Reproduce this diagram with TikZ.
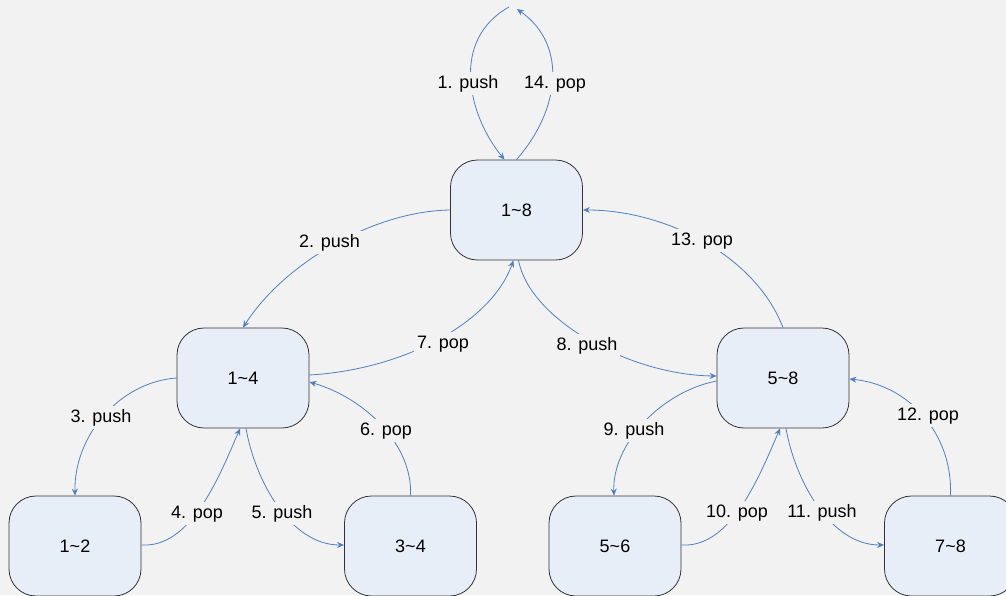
\documentclass[tikz,border=0pt]{standalone}
\usepackage{fontspec}
\setmainfont{Liberation Sans}
\usetikzlibrary{arrows.meta,calc}
\definecolor{bg}{HTML}{F2F2F2}
\definecolor{boxfill}{HTML}{E7EEF8}
\definecolor{edgecol}{HTML}{4D80C4}
\begin{document}
\begin{tikzpicture}[x=1pt,y=-1pt,
  box/.style={draw=black!80, line width=0.8pt, fill=boxfill, rounded corners=27pt,
    minimum width=132pt, minimum height=100pt, inner sep=0pt, font=\fontsize{18}{22}\selectfont},
  lbl/.style={fill=bg, inner sep=3pt, anchor=base, text height=13pt, text depth=4pt,
    font=\fontsize{18}{22}\selectfont},
  conn/.style={draw=edgecol, line width=0.8pt},
  arr/.style={conn, -{Stealth[length=7pt,width=6pt]}}]
\fill[bg] (0,0) rectangle (1006,595);
\useasboundingbox (0,0) rectangle (1006,595);

\node[box] (n18) at (516.5,210) {1\textasciitilde 8};
\node[box] (n14) at (243,378) {1\textasciitilde 4};
\node[box] (n58) at (783,378) {5\textasciitilde 8};
\node[box] (n12) at (75,546) {1\textasciitilde 2};
\node[box] (n34) at (410.5,546) {3\textasciitilde 4};
\node[box] (n56) at (615,546) {5\textasciitilde 6};
\node[box] (n78) at (950.5,546) {7\textasciitilde 8};
\coordinate (topa) at (509,7);
\coordinate (topb) at (517,9);

\draw[arr] (topa) .. controls (450,40) and (468,115) .. ($(n18.north)+(-12,0)$);
\draw[arr] (n18.north) .. controls (560,110) and (568,45) .. (topb);
\draw[arr] (n18.west) .. controls (375,211) and (285,262) .. (n14.north);
\draw[arr] ($(n14.east)+(0,-3)$) .. controls (400,370) and (490,325) .. ($(n18.south)+(-3,0)$);
\draw[arr] ($(n18.south)+(2,0)$) .. controls (530,320) and (630,375) .. ($(n58.west)+(0,-2)$);
\draw[arr] (n58.north) .. controls (755,255) and (665,210) .. (n18.east);
\draw[arr] (n14.west) .. controls (120,382) and (74,435) .. (n12.north);
\draw[arr] ($(n12.east)+(0,-1)$) .. controls (190,548) and (218,480) .. ($(n14.south)+(-3,0)$);
\draw[arr] ($(n14.south)+(3,0)$) .. controls (255,480) and (290,545) .. ($(n34.west)+(0,-1)$);
\draw[arr] (n34.north) .. controls (413,445) and (365,398) .. ($(n14.east)+(0,4)$);
\draw[arr] ($(n58.west)+(0,3)$) .. controls (660,392) and (612,445) .. ($(n56.north)+(-1,0)$);
\draw[arr] ($(n56.east)+(0,-1)$) .. controls (730,548) and (758,480) .. ($(n58.south)+(-3,0)$);
\draw[arr] ($(n58.south)+(3,0)$) .. controls (795,480) and (830,545) .. ($(n78.west)+(0,-1)$);
\draw[arr] (n78.north) .. controls (953,435) and (910,385) .. ($(n58.east)+(0,1)$);

\node[lbl] (l1) at (468,88) {1. push};
\node[lbl] (l14) at (555,88) {14. pop};
\node[lbl] (l2) at (329.5,247) {2. push};
\node[lbl] (l7) at (443,348) {7. pop};
\node[lbl] (l8) at (587,350) {8. push};
\node[lbl] (l13) at (702,245) {13. pop};
\node[lbl] (l3) at (101,422) {3. push};
\node[lbl] (l4) at (197,518) {4. pop};
\node[lbl] (l5) at (282,518) {5. push};
\node[lbl] (l6) at (386,435) {6. pop};
\node[lbl] (l9) at (634,435) {9. push};
\node[lbl] (l10) at (737,517) {10. pop};
\node[lbl] (l11) at (822,517) {11. push};
\node[lbl] (l12) at (928,420) {12. pop};
\end{tikzpicture}
\end{document}
